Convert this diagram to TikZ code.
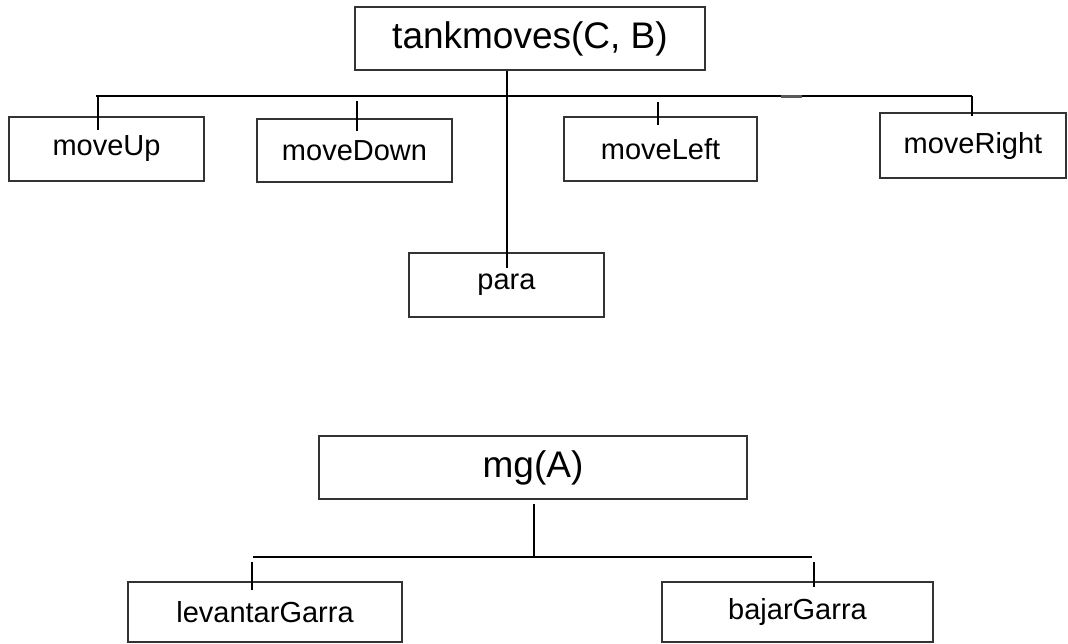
\documentclass[tikz,border=0pt]{standalone}
\usepackage{fontspec}
\setmainfont{Liberation Sans}
\usetikzlibrary{positioning}

\begin{document}
\begin{tikzpicture}[
	x=1pt, y=-1pt,
	ln/.style={line width=2pt},
	box/.style={
	  draw=black!80,
	  line width=1.2pt,
	  inner sep=0pt,
	  font=\fontsize{29}{34}\selectfont
	  },
	bigbox/.style={
	  box,
	  font=\fontsize{37}{44}\selectfont
	  }
	]
		\useasboundingbox (0,0) rectangle (1068,643);

		% tankmoves tree
		\node[bigbox,minimum width=350pt,minimum height=63pt] (tank) at (530,38.5) {tankmoves(C, B)};
		\node[box,minimum width=195pt,minimum height=64pt] (up) at (106.5,149) {moveUp};
		\node[box,minimum width=195pt,minimum height=63pt] (down) at (354.5,150.5) {moveDown};
		\node[box,minimum width=193pt,minimum height=64pt] (left) at (660.5,149) {moveLeft};
		\node[box,minimum width=186pt,minimum height=65pt] (right) at (973,145.5) {moveRight};
		\node[box,minimum width=195pt,minimum height=64pt] (para) at (506.5,285) {para};

		\coordinate (barL) at (96,96);
		\coordinate (barR) at (972,96);
		\coordinate (upA) at (98,96);
		\coordinate (upB) at (98,130);
		\coordinate (downA) at (357,101);
		\coordinate (downB) at (357,131);
		\coordinate (leftA) at (658,102);
		\coordinate (leftB) at (658,125);
		\coordinate (rightB) at (972,116);
		\coordinate (paraIn) at (507,268);

		\draw[ln]
			(barL) -- (barR);
		\draw[ln]
			(tank.south -| paraIn) -- (paraIn);
		\draw[ln] (upA) -- (upB);
		\draw[ln] (downA) -- (downB);
		\draw[ln] (leftA) -- (leftB);
		\draw[ln] (barR) -- (rightB);
		\draw[line width=3pt,black!65] (781,96) -- (802,96);

		% mg tree
		\node[bigbox,minimum width=428pt,minimum height=63pt] (mg) at (533,467.5) {mg(A)};
		\node[box,minimum width=274pt,minimum height=60pt] (lev) at (265,612) {levantarGarra};
		\node[box,minimum width=271pt,minimum height=60pt] (baj) at (797.5,612) {bajarGarra};

		\coordinate (mgA) at (534,504);
		\coordinate (mgB) at (534,557);
		\coordinate (gbarL) at (253,557);
		\coordinate (gbarR) at (812,557);
		\coordinate (levA) at (252,562);
		\coordinate (levB) at (252,590);
		\coordinate (bajA) at (814,562);
		\coordinate (bajB) at (814,587);

		\draw[ln] (mgA) -- (mgB);
		\draw[ln] (gbarL) -- (gbarR);
		\draw[ln] (levA) -- (levB);
		\draw[ln] (bajA) -- (bajB);
	\end{tikzpicture}
\end{document}
